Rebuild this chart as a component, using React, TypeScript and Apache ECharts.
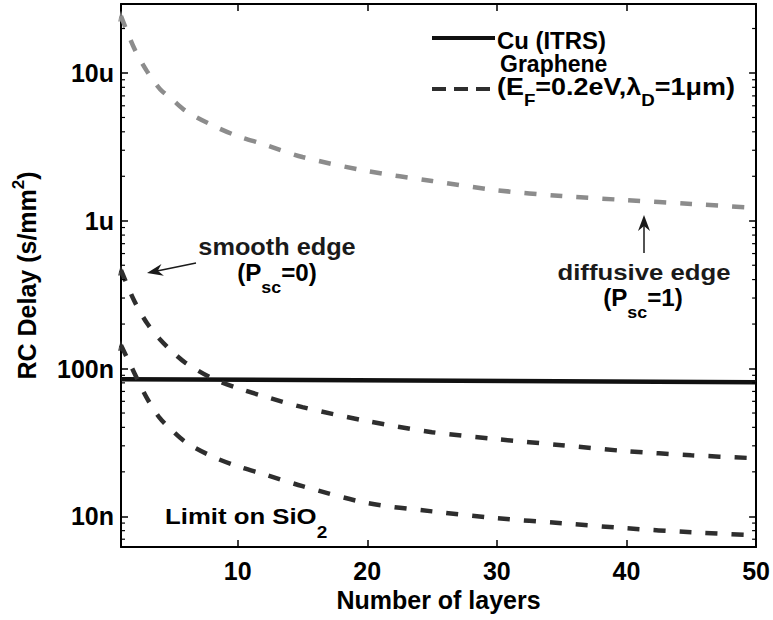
import React, { useEffect, useRef } from 'react';
import * as echarts from 'echarts';

// ---- data ----
const layers = [1, 2, 3, 4, 5, 6, 8, 10, 12, 15, 20, 25, 30, 35, 40, 45, 50];
const diffusiveEdgeDelay = [2.43e-5, 1.48e-5, 1.03e-5, 7.8e-6, 6.57e-6, 5.53e-6, 4.45e-6, 3.74e-6, 3.3e-6, 2.7e-6, 2.17e-6, 1.86e-6, 1.61e-6, 1.47e-6, 1.38e-6, 1.3e-6, 1.22e-6];
const smoothEdgeDelay = [4.64e-7, 2.9e-7, 2.03e-7, 1.58e-7, 1.29e-7, 1.09e-7, 8.61e-8, 7.37e-8, 6.5e-8, 5.48e-8, 4.41e-8, 3.71e-8, 3.33e-8, 3.03e-8, 2.76e-8, 2.59e-8, 2.47e-8];
const sio2LimitDelay = [1.44e-7, 9.45e-8, 6.31e-8, 4.62e-8, 3.77e-8, 3.17e-8, 2.55e-8, 2.18e-8, 1.93e-8, 1.6e-8, 1.23e-8, 1.08e-8, 9.71e-9, 8.98e-9, 8.3e-9, 7.8e-9, 7.44e-9];
const cuLayers = [1, 50];
const cuDelay = [8.48e-8, 8.09e-8];

const xTickLabels = ['10', '20', '30', '40', '50'];
const yTickValues = [1e-8, 1e-7, 1e-6, 1e-5];
const yTickLabels = ['10n', '100n', '1u', '10u'];

const X_MIN = 1;
const X_MAX = 50;
const Y_MIN = 6.2e-9;
const Y_MAX = 2.93e-5;

const FONT = '"Liberation Sans", Arial, Helvetica, sans-serif';

const minorTickValues: number[] = [];
for (let e = -9; e <= -5; e++) {
  for (let m = 2; m <= 9; m++) {
    const v = m * Math.pow(10, e);
    if (v > Y_MIN && v < Y_MAX) minorTickValues.push(v);
  }
}

function pairs(xs: number[], ys: number[]) {
  return xs.map((x, i) => [x, ys[i]]);
}

function arrowHead(tipX: number, tipY: number, fromX: number, fromY: number, len: number, half: number, notch: number) {
  const dx = tipX - fromX;
  const dy = tipY - fromY;
  const L = Math.sqrt(dx * dx + dy * dy);
  const ux = dx / L;
  const uy = dy / L;
  const px = -uy;
  const py = ux;
  const bx = tipX - ux * len;
  const by = tipY - uy * len;
  const nx = tipX - ux * notch;
  const ny = tipY - uy * notch;
  return [
    [tipX, tipY],
    [bx + px * half, by + py * half],
    [nx, ny],
    [bx - px * half, by - py * half],
  ];
}

export default function App() {
  const ref = useRef<HTMLDivElement>(null);

  useEffect(() => {
    if (!ref.current) return;
    const chart = echarts.init(ref.current, undefined, { renderer: 'svg' });

    const axisLine = { show: true, onZero: false, lineStyle: { color: '#000', width: 2 } };
    const axisTick = { show: true, inside: true, length: 7, lineStyle: { color: '#000', width: 1.5 } };
    const labelStyle = { fontFamily: FONT, fontWeight: 'bold' as const, fontSize: 25, color: '#000' };

    const TXT = '#1a1a1a';
    const sub = (size: number, pad: number, color = TXT) => ({ fontFamily: FONT, fontWeight: 'bold', fontSize: size, color, padding: [pad, 0, 0, 0], verticalAlign: 'middle' });
    const main = (size: number, color = TXT) => ({ fontFamily: FONT, fontWeight: 'bold', fontSize: size, color, verticalAlign: 'middle' });

    const smoothArrow = arrowHead(147, 273, 196, 263, 16, 6, 11);
    const diffArrow = arrowHead(644, 215, 644, 253, 16, 6, 11);

    chart.setOption({
      animation: false,
      backgroundColor: '#fff',
      grid: { left: 121, right: 16, top: 4, bottom: 73, containLabel: false },
      xAxis: [
        {
          type: 'value',
          min: X_MIN,
          max: X_MAX,
          position: 'bottom',
          axisLine,
          axisTick,
          splitLine: { show: false },
          axisLabel: {
            ...labelStyle,
            margin: 11,
            showMinLabel: false,
            formatter: (v: number) => (xTickLabels.includes(String(v)) ? String(v) : ''),
          },
          name: 'Number of layers',
          nameLocation: 'middle',
          nameGap: 40,
          nameTextStyle: { ...labelStyle, fontSize: 25 },
        },
        {
          type: 'value',
          min: X_MIN,
          max: X_MAX,
          position: 'top',
          axisLine,
          axisTick,
          splitLine: { show: false },
          axisLabel: { show: false },
        },
      ],
      yAxis: [
        {
          type: 'log',
          logBase: 10,
          min: Y_MIN,
          max: Y_MAX,
          position: 'left',
          axisLine,
          axisTick,
          splitLine: { show: false },
          axisLabel: {
            ...labelStyle,
            margin: 7,
            formatter: (v: number) => {
              const i = yTickValues.findIndex((t) => Math.abs(v / t - 1) < 1e-6);
              return i >= 0 ? yTickLabels[i] : '';
            },
          },
          name: '{a|RC Delay (s/mm}{s|2}{a|)}',
          nameLocation: 'middle',
          nameGap: 78,
          nameTextStyle: {
            rich: {
              a: { fontFamily: FONT, fontWeight: 'bold', fontSize: 25, color: '#000', verticalAlign: 'middle' },
              s: { fontFamily: FONT, fontWeight: 'bold', fontSize: 17, color: '#000', padding: [0, 0, 16, 0], verticalAlign: 'middle' },
            },
          },
        },
        {
          type: 'log',
          logBase: 10,
          min: Y_MIN,
          max: Y_MAX,
          position: 'right',
          axisLine,
          axisTick,
          splitLine: { show: false },
          axisLabel: { show: false },
        },
      ],
      series: [
        {
          name: 'Cu (ITRS)',
          type: 'line',
          data: pairs(cuLayers, cuDelay),
          showSymbol: false,
          lineStyle: { color: '#111', width: 4.5 },
          z: 3,
        },
        {
          name: 'Graphene diffusive edge (Psc=1)',
          type: 'line',
          data: pairs(layers, diffusiveEdgeDelay),
          showSymbol: false,
          smooth: 0.3,
          lineStyle: { color: '#8c8c8c', width: 4.5, type: [12, 14] },
          z: 4,
        },
        {
          name: 'Graphene smooth edge (Psc=0)',
          type: 'line',
          data: pairs(layers, smoothEdgeDelay),
          showSymbol: false,
          smooth: 0.3,
          lineStyle: { color: '#2e2e2e', width: 4.5, type: [12, 14] },
          z: 4,
        },
        {
          name: 'Graphene limit on SiO2',
          type: 'line',
          data: pairs(layers, sio2LimitDelay),
          showSymbol: false,
          smooth: 0.3,
          lineStyle: { color: '#2e2e2e', width: 4.5, type: [12, 14] },
          z: 4,
        },
        {
          name: 'start markers',
          type: 'scatter',
          symbol: 'triangle',
          symbolSize: [6, 11],
          silent: true,
          data: [
            { value: [layers[0], diffusiveEdgeDelay[0]], itemStyle: { color: '#8c8c8c' } },
            { value: [layers[0], smoothEdgeDelay[0]], itemStyle: { color: '#2e2e2e' } },
            { value: [layers[0], sio2LimitDelay[0]], itemStyle: { color: '#2e2e2e' } },
          ],
          z: 5,
        },
        {
          name: 'minor ticks',
          type: 'custom',
          coordinateSystem: 'cartesian2d',
          silent: true,
          clip: false,
          data: minorTickValues.map((v) => [X_MIN, v]),
          renderItem: (_params: any, api: any) => {
            const v = api.value(1);
            const p0 = api.coord([X_MIN, v]);
            const p1 = api.coord([X_MAX, v]);
            const st = { stroke: '#000', lineWidth: 1.2 };
            return {
              type: 'group',
              children: [
                { type: 'line', shape: { x1: p0[0], y1: p0[1], x2: p0[0] + 4, y2: p0[1] }, style: st },
                { type: 'line', shape: { x1: p1[0] - 4, y1: p1[1], x2: p1[0], y2: p1[1] }, style: st },
              ],
            };
          },
          z: 6,
        },
      ],
      graphic: [
        // legend
        { type: 'line', shape: { x1: 432, y1: 38, x2: 495, y2: 38 }, style: { stroke: '#111', lineWidth: 4 } },
        { type: 'text', x: 497, y: 41, scaleX: 1.04, style: { text: 'Cu (ITRS)', font: `bold 23px ${FONT}`, fill: '#000', verticalAlign: 'middle', align: 'left' } },
        { type: 'line', shape: { x1: 432, y1: 89, x2: 495, y2: 89 }, style: { stroke: '#2e2e2e', lineWidth: 4, lineDash: [14, 8] } },
        { type: 'text', x: 500, y: 64, style: { text: 'Graphene', font: `bold 23px ${FONT}`, fill: '#000', verticalAlign: 'middle', align: 'left' } },
        {
          type: 'text',
          x: 497,
          y: 87,
          scaleX: 1.17,
          style: {
            text: '{a|(E}{s|F}{a|=0.2eV,λ}{s|D}{a|=1μm)}',
            rich: { a: main(23, '#000'), s: sub(16, 26, '#000') },
            verticalAlign: 'middle',
            align: 'left',
          },
        },
        // smooth edge annotation
        { type: 'text', x: 277, y: 247, scaleX: 1.1, style: { text: 'smooth edge', font: `bold 23px ${FONT}`, fill: TXT, align: 'center', verticalAlign: 'middle' } },
        {
          type: 'text',
          x: 277,
          y: 273,
          scaleX: 1.05,
          style: { text: '{a|(P}{s|sc}{a|=0)}', rich: { a: main(23), s: sub(17, 28) }, align: 'center', verticalAlign: 'middle' },
        },
        { type: 'line', shape: { x1: 196, y1: 263, x2: 157, y2: 271 }, style: { stroke: TXT, lineWidth: 1.5 } },
        { type: 'polygon', shape: { points: smoothArrow }, style: { fill: TXT } },
        // diffusive edge annotation
        { type: 'text', x: 644, y: 272, scaleX: 1.12, style: { text: 'diffusive edge', font: `bold 23px ${FONT}`, fill: TXT, align: 'center', verticalAlign: 'middle' } },
        {
          type: 'text',
          x: 643,
          y: 298,
          scaleX: 1.05,
          style: { text: '{a|(P}{s|sc}{a|=1)}', rich: { a: main(23), s: sub(17, 28) }, align: 'center', verticalAlign: 'middle' },
        },
        { type: 'line', shape: { x1: 644, y1: 253, x2: 644, y2: 225 }, style: { stroke: TXT, lineWidth: 1.5 } },
        { type: 'polygon', shape: { points: diffArrow }, style: { fill: TXT } },
        // limit on SiO2
        {
          type: 'text',
          x: 165,
          y: 516,
          scaleX: 1.12,
          style: { text: '{a|Limit on SiO}{s|2}', rich: { a: main(23, '#333'), s: sub(17, 32, '#333') }, align: 'left', verticalAlign: 'middle' },
        },
      ],
    });

    return () => chart.dispose();
  }, []);

  return <div ref={ref} style={{ position: 'fixed', left: 0, top: 0, width: 773, height: 620, background: '#fff' }} />;
}
